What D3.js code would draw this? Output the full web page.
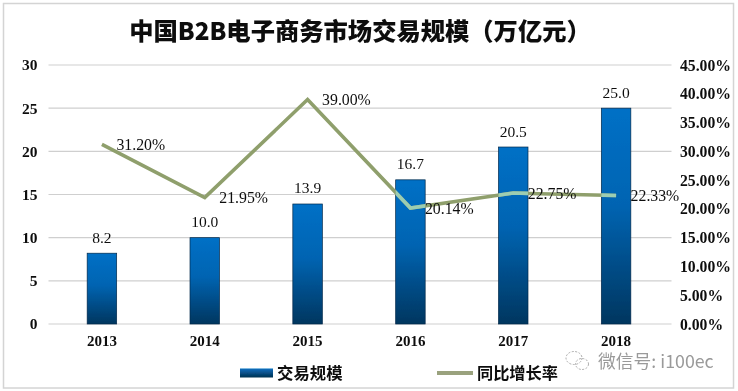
<!DOCTYPE html>
<html><head><meta charset="utf-8">
<script src="https://cdnjs.cloudflare.com/ajax/libs/d3/7.8.5/d3.min.js"></script>
<style>html,body{margin:0;padding:0;background:#fff}svg{display:block}
text{font-family:"Liberation Serif",serif}
.cjk{font-family:"Noto Sans CJK SC",sans-serif}</style></head><body>
<svg id="c" width="738" height="391"></svg>
<script>
const years=["2013","2014","2015","2016","2017","2018"];
const scaleValues=[8.2,10.0,13.9,16.7,20.5,25.0];
const growthValues=[31.20,21.95,39.00,20.14,22.75,22.33];
const leftTicks=[0,5,10,15,20,25,30];
const rightTicks=[0,5,10,15,20,25,30,35,40,45];
const titleText="中国B2B电子商务市场交易规模（万亿元）";
const legendBar="交易规模", legendLine="同比增长率", watermark="微信号: i100ec";

const svg=d3.select("#c");
const m={l:50.5,r:667.5,t:65,b:324};
const x=d3.scaleBand().domain(years).range([m.l,m.r]);
const y=d3.scaleLinear().domain([0,30]).range([m.b,m.t]);
const yr=d3.scaleLinear().domain([0,45]).range([m.b,m.t]);
const cx=d=>x(d)+x.bandwidth()/2, bw=29.5;

const defs=svg.append("defs");
const g=defs.append("linearGradient").attr("id","bar").attr("x1",0).attr("y1",0).attr("x2",0).attr("y2",1);
g.append("stop").attr("offset",0).attr("stop-color","#0670c6");
g.append("stop").attr("offset",.45).attr("stop-color","#0664b2");
g.append("stop").attr("offset",1).attr("stop-color","#02365f");
const lg=defs.append("linearGradient").attr("id","leg");
lg.attr("x1",0).attr("y1",0).attr("x2",0).attr("y2",1);
lg.append("stop").attr("offset",0).attr("stop-color","#0a6fc0");
lg.append("stop").attr("offset",1).attr("stop-color","#04304f");
const clip=defs.append("clipPath").attr("id","barclip");
years.forEach((d,i)=>clip.append("rect").attr("x",cx(d)-bw/2).attr("y",y(scaleValues[i])).attr("width",bw).attr("height",m.b-y(scaleValues[i])));
defs.append("filter").attr("id","soft").append("feGaussianBlur").attr("stdDeviation",.35);

svg.append("rect").attr("x",3.5).attr("y",3.5).attr("width",730).attr("height",384.5).attr("fill","#fff").attr("stroke","#d4d4d4").attr("stroke-width",1.5);

const root=svg.append("g").attr("filter","url(#soft)");
// grid
const yAxisG=root.append("g").attr("transform",`translate(${m.l-2},0)`)
 .call(d3.axisLeft(y).tickValues(leftTicks).tickSize(0).tickPadding(11).tickFormat(d3.format("d")));
yAxisG.select(".domain").remove();
yAxisG.selectAll("text").attr("font-family","Liberation Serif").attr("font-weight","bold").attr("font-size",15.5).attr("fill","#111");
root.append("g").selectAll("line").data(leftTicks).join("line")
 .attr("x1",m.l-2).attr("x2",m.r+4).attr("y1",d=>y(d)).attr("y2",d=>y(d))
 .attr("stroke","#cfcfcf").attr("stroke-width",1.2);
// right axis
const rAxisG=root.append("g").attr("transform",`translate(${m.r+12.5},0)`)
 .call(d3.axisRight(yr).tickValues(rightTicks).tickSize(0).tickPadding(0).tickFormat(d=>d3.format(".2f")(d)+"%"));
rAxisG.select(".domain").remove();
rAxisG.selectAll("text").attr("font-family","Liberation Serif").attr("font-weight","bold").attr("font-size",15.7).attr("fill","#111");
// x axis
const xAxisG=root.append("g").attr("transform",`translate(0,${m.b})`)
 .call(d3.axisBottom(x).tickSize(0).tickPadding(11));
xAxisG.select(".domain").remove();
xAxisG.selectAll("text").attr("font-family","Liberation Serif").attr("font-weight","bold").attr("font-size",15).attr("fill","#111");
// bars
root.append("g").selectAll("rect").data(years).join("rect")
 .attr("x",d=>cx(d)-bw/2).attr("width",bw)
 .attr("y",(d,i)=>y(scaleValues[i])).attr("height",(d,i)=>m.b-y(scaleValues[i]))
 .attr("fill","url(#bar)").attr("stroke","#05284a").attr("stroke-width",.7);
// bar labels
root.append("g").selectAll("text").data(years).join("text")
 .attr("x",cx).attr("y",(d,i)=>y(scaleValues[i])-10.5)
 .attr("text-anchor","middle").attr("font-size",15.5).attr("fill","#111")
 .text((d,i)=>scaleValues[i].toFixed(1));
// line
const line=d3.line().x((d,i)=>cx(years[i])).y(d=>yr(d));
root.append("path").attr("d",line(growthValues)).attr("fill","none").attr("stroke","#8f9f6c").attr("stroke-width",3.6).attr("stroke-linejoin","miter");
root.append("path").attr("d",line(growthValues)).attr("fill","none").attr("stroke","#9ccdb2").attr("stroke-width",3.6).attr("clip-path","url(#barclip)");
// line labels
root.append("g").selectAll("text").data(growthValues).join("text")
 .attr("x",(d,i)=>cx(years[i])+14.5).attr("y",d=>yr(d)+5.5)
 .attr("font-size",15.8).attr("fill","#111")
 .text(d=>d.toFixed(2)+"%");
// title
root.append("text").attr("class","cjk").attr("x",360).attr("y",40).attr("text-anchor","middle")
 .attr("font-size",24.3).attr("font-weight",900).attr("fill","#0c0c0c").text(titleText);
// legend
root.append("rect").attr("x",240).attr("y",368.5).attr("width",33).attr("height",9).attr("fill","url(#leg)");
root.append("text").attr("class","cjk").attr("x",277).attr("y",379).attr("font-size",16.4).attr("font-weight",700).attr("fill","#111").text(legendBar);
root.append("line").attr("x1",437).attr("x2",473).attr("y1",373).attr("y2",373).attr("stroke","#9aa27e").attr("stroke-width",4);
root.append("text").attr("class","cjk").attr("x",477).attr("y",379).attr("font-size",16.2).attr("font-weight",700).attr("fill","#111").text(legendLine);
// watermark
const wm=root.append("g").attr("fill","none").attr("stroke","#a9a9a9").attr("stroke-width",1);
wm.append("ellipse").attr("cx",574).attr("cy",358).attr("rx",8).attr("ry",6.5).attr("stroke-dasharray","2 1.5");
wm.append("ellipse").attr("cx",582).attr("cy",364).attr("rx",6.5).attr("ry",5.5).attr("stroke-dasharray","2 1.5");
root.append("text").attr("class","cjk").attr("x",598).attr("y",368).attr("font-size",17.8).attr("fill","#9a9a9a").text(watermark);
</script></body></html>
